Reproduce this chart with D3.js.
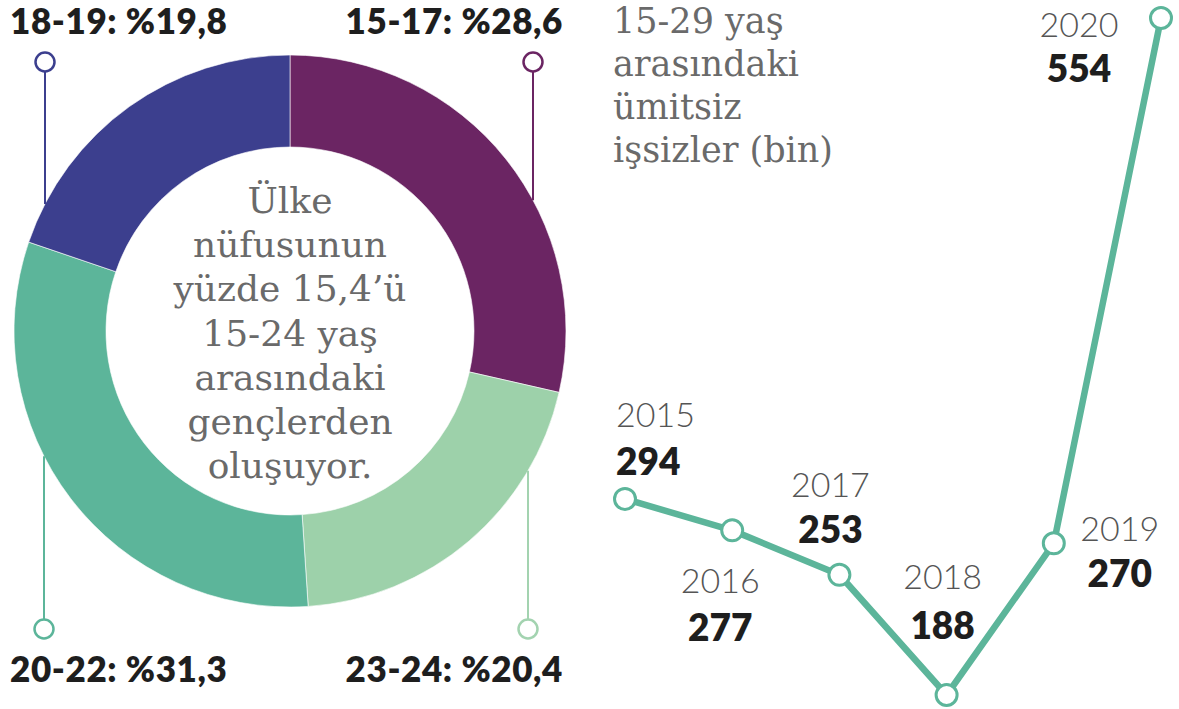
<!DOCTYPE html>
<html>
<head>
<meta charset="utf-8">
<script src="https://cdn.jsdelivr.net/npm/d3@7"></script>
<style>
  html, body { margin: 0; padding: 0; background: #fff; }
  svg { display: block; }
</style>
</head>
<body>
<div id="chart"></div>
<script>
// donut: age groups, clockwise from 12 o'clock
const ageGroups = ['15-17', '23-24', '20-22', '18-19'];
const ageShares = [28.6, 20.4, 31.3, 19.8];
const ageColors = ['#6b2563', '#9dd1aa', '#5cb59a', '#3c3f8e'];
const leaderColors = ['#6b2563', '#a3d3b0', '#5cb59a', '#3c3f8e'];

const centerLines = ['Ülke', 'nüfusunun', 'yüzde 15,4’ü', '15-24 yaş', 'arasındaki', 'gençlerden', 'oluşuyor.'];

// line: hopeless unemployed aged 15-29 (thousand)
const years = [2015, 2016, 2017, 2018, 2019, 2020];
const hopeless = [294, 277, 253, 188, 270, 554];
const titleLines = ['15-29 yaş', 'arasındaki', 'ümitsiz', 'işsizler (bin)'];

const width = 1179, height = 709;

const svg = d3.select('#chart').append('svg')
  .attr('width', width)
  .attr('height', height);

// ---------- donut ----------
const cx = 290, cy = 331, outerR = 276, innerR = 184;

const pie = d3.pie().sort(null).value(d => d);
const arc = d3.arc().innerRadius(innerR).outerRadius(outerR);
const arcs = pie(ageShares);

const donut = svg.append('g').attr('transform', `translate(${cx},${cy})`);

donut.selectAll('path')
  .data(arcs)
  .enter()
  .append('path')
  .attr('d', arc)
  .attr('fill', (d, i) => ageColors[i])
  .attr('stroke', '#fff')
  .attr('stroke-width', 0.6);

donut.append('g')
  .selectAll('text')
  .data(centerLines)
  .enter()
  .append('text')
  .attr('x', 0)
  .attr('y', (d, i) => -118 + i * 44.2)
  .attr('text-anchor', 'middle')
  .style('font-family', '"DejaVu Serif", serif')
  .style('font-size', '36px')
  .style('fill', '#6a6a6a')
  .text(d => d);

// leader lines + labels, one per age group
// (x of the leader, circle y, label baseline, label anchor x)
const leaderLayout = [
  {x: 533, dot: 62, base: 34, tx: 563, anchor: 'end', top: true},
  {x: 528, dot: 629, base: 682, tx: 563, anchor: 'end', top: false},
  {x: 44, dot: 629, base: 682, tx: 10, anchor: 'start', top: false},
  {x: 45, dot: 62, base: 34, tx: 10, anchor: 'start', top: true}
];

const fmtPct = v => '%' + v.toFixed(1).replace('.', ',');

const leaders = svg.append('g');
ageGroups.forEach((g, i) => {
  const L = leaderLayout[i];
  const dx = L.x - cx;
  const edge = Math.sqrt(outerR * outerR - dx * dx);
  const edgeY = L.top ? cy - edge : cy + edge;
  const r = 9.5;

  leaders.append('line')
    .attr('x1', L.x).attr('x2', L.x)
    .attr('y1', L.top ? L.dot + r : L.dot - r)
    .attr('y2', edgeY)
    .attr('stroke', leaderColors[i])
    .attr('stroke-width', 2);

  leaders.append('circle')
    .attr('cx', L.x).attr('cy', L.dot).attr('r', r)
    .attr('fill', '#fff')
    .attr('stroke', leaderColors[i])
    .attr('stroke-width', 2.5);

  leaders.append('text')
    .attr('x', L.tx).attr('y', L.base)
    .attr('text-anchor', L.anchor)
    .style('font-family', 'Lato, sans-serif')
    .style('font-weight', 800)
    .style('font-size', '35px')
    .style('letter-spacing', '0.6px')
    .style('fill', '#1e1e1e')
    .text(g + ': ' + fmtPct(ageShares[i]));
});

// ---------- line chart ----------
const x = d3.scaleLinear().domain([2015, 2020]).range([625, 1161]);
const y = d3.scaleLinear().domain([188, 554]).range([695, 18]);

const points = years.map((yr, i) => ({year: yr, value: hopeless[i]}));

svg.append('g')
  .selectAll('text')
  .data(titleLines)
  .enter()
  .append('text')
  .attr('x', 613)
  .attr('y', (d, i) => 33 + i * 43)
  .style('font-family', '"DejaVu Serif", serif')
  .style('font-size', '35px')
  .style('fill', '#6a6a6a')
  .text(d => d);

const line = d3.line().x(d => x(d.year)).y(d => y(d.value));

svg.append('path')
  .datum(points)
  .attr('d', line)
  .attr('fill', 'none')
  .attr('stroke', '#5cb59a')
  .attr('stroke-width', 6.5)
  .attr('stroke-linejoin', 'round');

svg.append('g')
  .selectAll('circle')
  .data(points)
  .enter()
  .append('circle')
  .attr('cx', d => x(d.year))
  .attr('cy', d => y(d.value))
  .attr('r', 10.5)
  .attr('fill', '#fff')
  .attr('stroke', '#5cb59a')
  .attr('stroke-width', 3);

// label offsets from each point: dx, year baseline dy, value baseline dy
const labelPlace = [
  {dx: -9, yr: -72, val: -24, anchor: 'start'},
  {dx: -12, yr: 63, val: 111, anchor: 'middle'},
  {dx: -9, yr: -78, val: -32, anchor: 'middle'},
  {dx: -4, yr: -106, val: -56, anchor: 'middle'},
  {dx: 66, yr: -2, val: 44, anchor: 'middle'},
  {dx: -82, yr: 19, val: 64, anchor: 'middle'}
];

const labels = svg.append('g')
  .selectAll('g')
  .data(points)
  .enter()
  .append('g')
  .attr('transform', (d, i) => `translate(${x(d.year) + labelPlace[i].dx},${y(d.value)})`);

labels.append('text')
  .attr('y', (d, i) => labelPlace[i].yr)
  .attr('text-anchor', (d, i) => labelPlace[i].anchor)
  .style('font-family', 'Lato, sans-serif')
  .style('font-weight', 300)
  .style('font-size', '34px')
  .style('fill', '#555')
  .text(d => d.year);

labels.append('text')
  .attr('y', (d, i) => labelPlace[i].val)
  .attr('text-anchor', (d, i) => labelPlace[i].anchor)
  .style('font-family', 'Lato, sans-serif')
  .style('font-weight', 800)
  .style('font-size', '37px')
  .style('fill', '#1e1e1e')
  .text(d => d.value);
</script>
</body>
</html>
